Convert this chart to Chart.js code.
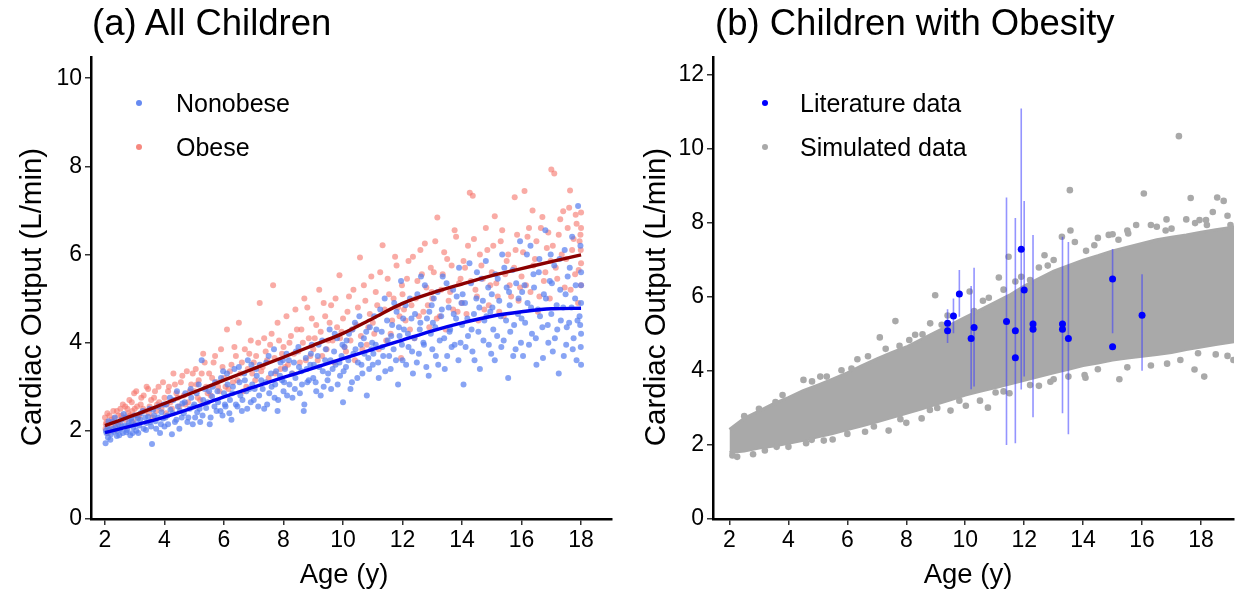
<!DOCTYPE html>
<html>
<head>
<meta charset="utf-8">
<script src="https://cdn.jsdelivr.net/npm/chart.js@4.4.1/dist/chart.umd.min.js"></script>
<style>
  html, body { margin:0; padding:0; background:#fff; }
  body { width:1238px; height:596px; position:relative; overflow:hidden; font-family:'Liberation Sans', Arial, sans-serif; color:#000; }
  canvas { position:absolute; top:0; }
  .title { position:absolute; font-size:36.5px; line-height:36px; white-space:nowrap; }
  .ytitle { position:absolute; width:400px; text-align:center; font-size:29.5px; line-height:30px; white-space:nowrap; transform:rotate(-90deg); }
  .xtitle { position:absolute; width:300px; text-align:center; font-size:27.5px; line-height:28px; white-space:nowrap; }
  .leg { position:absolute; font-size:25px; line-height:26px; white-space:nowrap; }
  .dot { position:absolute; width:6px; height:6px; border-radius:50%; }
</style>
</head>
<body>
<canvas id="cA" width="620" height="596" style="left:0px;"></canvas>
<canvas id="cB" width="618" height="596" style="left:620px;"></canvas>

<div class="title" style="left:92px; top:5px;">(a) All Children</div>
<div class="title" style="left:715px; top:5px;">(b) Children with Obesity</div>

<div class="ytitle" style="left:-169px; top:282px;">Cardiac Output (L/min)</div>
<div class="ytitle" style="left:455px; top:282px;">Cardiac Output (L/min)</div>

<div class="xtitle" style="left:194px; top:560px;">Age (y)</div>
<div class="xtitle" style="left:818px; top:560px;">Age (y)</div>

<div class="dot" style="left:136px; top:100px; background:rgba(85,125,240,0.9);"></div>
<div class="leg" style="left:176px; top:90px;">Nonobese</div>
<div class="dot" style="left:136px; top:144px; background:rgba(245,115,105,0.85);"></div>
<div class="leg" style="left:176px; top:134px;">Obese</div>

<div class="dot" style="left:762px; top:100px; background:#0000ff;"></div>
<div class="leg" style="left:800px; top:90px;">Literature data</div>
<div class="dot" style="left:762px; top:144px; background:#a9a9a9;"></div>
<div class="leg" style="left:800px; top:134px;">Simulated data</div>

<script>
// ---------------- DATA ----------------
const ageTicks = [2, 4, 6, 8, 10, 12, 14, 16, 18];
const coTicksA = [0, 2, 4, 6, 8, 10];
const coTicksB = [0, 2, 4, 6, 8, 10, 12];

// fitted curves (panel a)
const fitAges = [2, 3, 4, 5, 6, 7, 8, 9, 10, 11, 12, 13, 14, 15, 16, 17, 18];
const nonobeseFit = [1.96, 2.13, 2.31, 2.53, 2.77, 2.99, 3.21, 3.42, 3.64, 3.85, 4.06, 4.27, 4.45, 4.60, 4.70, 4.77, 4.78];
const obeseFit = [2.12, 2.36, 2.62, 2.88, 3.15, 3.41, 3.67, 3.94, 4.21, 4.55, 4.89, 5.13, 5.33, 5.52, 5.68, 5.84, 5.99];

// individual points (panel a): [age, cardiac output]
const nonobesePts = [
[2.02,1.72],[2.05,1.95],[2.08,2.1],[2.1,1.85],[2.15,2.02],[2.2,1.92],[2.25,2.2],[2.3,1.98],[2.35,2.08],[2.4,1.88],[2.45,2.15],[2.5,2.05],[2.55,2.25],[2.6,1.95],[2.65,2.12],[2.7,2.3],[2.75,2.02],[2.8,2.18],[2.85,1.9],[2.9,2.22],[2.95,2.08],[3.0,2.35],
[3.05,2.0],[3.1,2.28],[3.15,2.12],[3.2,2.4],[3.3,2.05],[3.35,2.3],[3.4,2.18],[3.5,2.5],[3.55,2.1],[3.58,1.7],[3.65,2.35],[3.7,2.22],[3.8,2.55],[3.85,1.95],[3.9,2.42],[3.95,2.28],
[4.0,2.1],[4.05,2.6],[4.1,2.35],[4.2,2.48],[4.25,1.92],[4.3,2.7],[4.4,2.25],[4.45,2.55],[4.5,2.05],[4.6,2.62],[4.65,2.4],[4.7,2.85],[4.8,2.3],[4.85,2.5],[4.9,2.75],[4.95,2.15],
[5.0,2.6],[5.1,2.42],[5.15,3.05],[5.2,2.2],[5.25,3.6],[5.3,2.7],[5.4,2.52],[5.5,2.9],[5.55,2.3],[5.6,2.78],[5.7,3.1],[5.75,2.45],[5.8,2.65],[5.9,3.2],[5.95,2.35],
[6.0,2.85],[6.05,2.55],[6.1,3.3],[6.2,2.7],[6.25,2.25],[6.3,3.0],[6.4,2.6],[6.5,3.45],[6.55,2.8],[6.6,2.45],[6.7,3.15],[6.75,2.9],[6.8,3.6],[6.9,2.65],[6.95,3.05],
[7.0,2.7],[7.1,3.25],[7.15,2.55],[7.2,3.5],[7.3,2.95],[7.4,3.1],[7.45,2.6],[7.5,3.7],[7.6,3.0],[7.7,2.75],[7.75,3.35],[7.8,2.45],[7.9,3.55],[7.95,3.15],
[8.0,2.9],[8.05,3.4],[8.1,3.75],[8.2,3.05],[8.3,2.75],[8.35,3.55],[8.4,3.2],[8.5,3.9],[8.55,2.85],[8.6,3.35],[8.7,2.6],[8.75,3.65],[8.8,3.1],[8.9,3.5],[8.95,3.95],
[9.0,3.2],[9.1,2.9],[9.15,3.7],[9.2,3.45],[9.3,4.05],[9.35,3.0],[9.4,3.6],[9.5,3.3],[9.55,4.3],[9.6,2.95],[9.7,3.8],[9.75,3.5],[9.8,4.1],[9.9,3.25],[9.95,3.7],
[10.0,2.65],[10.05,3.9],[10.1,3.45],[10.2,4.2],[10.3,3.1],[10.35,3.75],[10.4,4.45],[10.5,3.55],[10.6,3.95],[10.65,3.3],[10.7,4.1],[10.8,2.8],[10.85,3.65],[10.9,4.35],[10.95,3.85],
[11.0,3.5],[11.05,4.6],[11.1,3.95],[11.2,3.2],[11.3,4.25],[11.35,3.7],[11.4,5.0],[11.5,4.05],[11.6,3.4],[11.65,4.4],[11.7,3.85],[11.8,4.7],[11.85,3.05],[11.9,4.15],[11.95,5.4],
[12.0,3.6],[12.05,4.3],[12.1,4.85],[12.2,3.9],[12.3,4.55],[12.35,3.3],[12.4,4.1],[12.5,5.1],[12.55,3.75],[12.6,4.45],[12.7,4.0],[12.75,5.3],[12.8,3.45],[12.9,4.7],[12.95,4.2],
[13.0,3.85],[13.05,5.0],[13.1,4.35],[13.2,3.5],[13.3,4.6],[13.35,5.5],[13.4,4.1],[13.5,3.7],[13.55,4.8],[13.6,4.3],[13.7,5.2],[13.75,3.95],[13.8,4.55],[13.9,5.7],[13.95,4.0],
[14.0,4.4],[14.05,3.05],[14.1,4.9],[14.2,4.15],[14.3,5.35],[14.35,3.8],[14.4,4.65],[14.5,5.6],[14.55,4.25],[14.6,3.4],[14.7,4.95],[14.75,4.5],[14.8,5.85],[14.9,3.95],[14.95,4.7],
[15.0,5.1],[15.05,4.3],[15.1,3.6],[15.2,5.45],[15.3,4.6],[15.35,6.0],[15.4,4.05],[15.5,5.25],[15.55,3.2],[15.6,4.85],[15.7,5.65],[15.75,4.4],[15.8,3.85],[15.9,5.0],[15.95,6.3],
[16.0,4.55],[16.05,3.7],[16.1,5.3],[16.2,4.9],[16.3,6.2],[16.35,4.2],[16.4,5.55],[16.5,3.5],[16.55,4.75],[16.6,5.9],[16.7,4.35],[16.75,5.1],[16.8,6.55],[16.9,4.0],[16.95,5.4],
[17.0,4.65],[17.05,3.8],[17.1,5.75],[17.2,4.3],[17.25,3.3],[17.3,5.2],[17.4,4.8],[17.45,6.1],[17.5,3.95],[17.55,5.5],[17.6,4.45],[17.7,6.4],[17.75,4.1],[17.8,5.0],[17.85,3.6],[17.9,7.1],[17.95,4.6],[18.0,5.3],[18.0,4.2],[18.0,3.5],[18.0,5.6],[18.0,4.9],
[2.03,2.0],[2.12,2.22],[2.18,1.8],[2.27,2.05],[2.33,2.3],[2.42,2.0],[2.48,1.9],[2.57,2.1],[2.63,2.38],[2.72,1.97],[2.78,2.12],[2.88,2.28],[2.93,1.95],
[3.02,2.15],[3.12,1.95],[3.18,2.25],[3.27,2.45],[3.38,2.02],[3.45,2.32],[3.52,2.2],[3.62,2.48],[3.72,2.05],[3.78,2.3],[3.88,2.15],[3.97,2.6],
[4.03,2.3],[4.12,2.15],[4.18,2.75],[4.28,2.4],[4.35,2.2],[4.42,2.9],[4.52,2.45],[4.58,2.3],[4.68,2.65],[4.77,2.2],[4.88,2.95],[4.97,2.55],
[5.03,2.3],[5.08,2.85],[5.18,2.5],[5.28,2.35],[5.35,2.95],[5.45,2.65],[5.52,2.15],[5.62,3.0],[5.68,2.55],[5.78,2.9],[5.88,2.45],[5.97,3.35],
[6.03,2.6],[6.12,3.05],[6.18,2.4],[6.28,2.85],[6.35,3.4],[6.45,2.55],[6.52,3.1],[6.62,2.7],[6.68,3.3],[6.78,2.5],[6.85,2.95],[6.92,3.5],
[7.03,2.95],[7.08,3.4],[7.18,2.8],[7.25,3.15],[7.35,2.5],[7.42,3.55],[7.52,2.85],[7.58,3.3],[7.68,3.85],[7.72,3.05],[7.82,2.7],[7.88,3.25],[7.98,3.6],
[8.02,3.1],[8.12,2.8],[8.18,3.6],[8.28,3.3],[8.38,2.95],[8.42,3.8],[8.52,3.45],[8.62,3.05],[8.68,2.45],[8.78,3.4],[8.85,3.15],[8.92,3.75],
[9.02,3.5],[9.08,3.1],[9.18,3.95],[9.25,2.8],[9.32,3.35],[9.42,3.85],[9.48,3.15],[9.58,3.6],[9.65,3.4],[9.72,4.2],[9.82,3.05],[9.88,3.55],[9.98,3.95],
[10.02,3.35],[10.12,4.05],[10.18,3.6],[10.25,2.95],[10.32,4.3],[10.42,3.85],[10.48,3.2],[10.55,4.6],[10.62,3.5],[10.72,3.75],[10.78,4.25],[10.88,3.4],[10.98,4.0],
[11.02,3.75],[11.12,4.3],[11.18,3.55],[11.25,4.75],[11.32,3.9],[11.42,3.35],[11.48,4.5],[11.55,3.7],[11.62,4.15],[11.72,4.9],[11.78,3.6],[11.88,4.35],[11.98,3.95],
[12.02,4.55],[12.12,3.5],[12.18,4.2],[12.25,5.0],[12.32,3.8],[12.42,4.65],[12.48,3.55],[12.58,4.3],[12.62,5.5],[12.72,3.95],[12.82,4.55],[12.88,3.25],[12.98,4.85],
[13.02,4.45],[13.12,3.7],[13.18,5.15],[13.25,4.05],[13.32,4.75],[13.42,3.4],[13.48,5.35],[13.58,4.25],[13.65,3.9],[13.72,4.65],[13.82,5.05],[13.88,3.6],[13.98,4.9],
[14.02,5.1],[14.12,3.9],[14.18,4.55],[14.25,5.8],[14.32,4.3],[14.42,3.6],[14.48,5.0],[14.58,4.8],[14.65,5.45],[14.72,4.05],[14.82,4.6],[14.88,5.25],[14.98,3.75],
[15.02,4.8],[15.12,5.55],[15.18,4.15],[15.25,4.95],[15.32,3.9],[15.42,5.7],[15.48,4.5],[15.58,5.15],[15.62,4.25],[15.72,3.7],[15.82,5.35],[15.88,4.65],[15.98,4.0],
[16.02,5.15],[16.12,4.45],[16.18,6.0],[16.25,3.95],[16.32,4.8],[16.42,5.25],[16.48,4.1],[16.58,5.6],[16.62,4.6],[16.72,3.65],[16.82,5.0],[16.88,4.4],[16.98,6.0],
[17.02,5.35],[17.12,4.1],[17.18,4.85],[17.28,5.9],[17.32,4.5],[17.42,3.7],[17.48,5.1],[17.52,4.35],[17.62,5.7],[17.68,4.8],[17.72,3.85],[17.82,5.3],[17.88,4.5],[17.98,6.2],[17.99,3.9],[17.97,4.4]
];
const obesePts = [
[2.0,2.3],[2.02,2.05],[2.05,2.2],[2.1,1.95],[2.15,2.35],[2.2,2.1],[2.3,2.28],[2.35,2.02],[2.4,2.45],[2.5,2.2],[2.55,2.35],[2.6,2.6],[2.7,2.25],[2.75,2.5],[2.85,2.35],[2.9,2.65],[2.95,2.2],
[3.0,2.5],[3.05,2.9],[3.15,2.35],[3.2,2.6],[3.3,2.8],[3.35,2.45],[3.45,2.95],[3.5,2.55],[3.6,2.3],[3.65,2.75],[3.75,2.6],[3.8,3.0],[3.9,2.5],
[4.0,2.75],[4.05,2.4],[4.15,3.0],[4.2,2.65],[4.3,3.3],[4.4,2.85],[4.5,2.55],[4.55,3.1],[4.65,2.8],[4.75,3.35],[4.8,2.65],[4.9,3.05],
[5.0,2.9],[5.05,3.4],[5.15,3.15],[5.2,2.7],[5.3,3.75],[5.4,3.0],[5.5,3.3],[5.55,2.8],[5.65,3.55],[5.75,3.1],[5.85,2.9],[5.9,3.85],
[6.0,3.2],[6.1,4.3],[6.15,2.95],[6.25,3.5],[6.3,3.1],[6.4,3.7],[6.5,4.45],[6.55,3.3],[6.65,2.9],[6.7,3.85],[6.8,3.4],[6.9,4.05],
[7.0,3.55],[7.05,3.15],[7.15,4.0],[7.2,4.9],[7.3,3.45],[7.4,3.8],[7.5,3.2],[7.6,4.2],[7.65,5.3],[7.7,3.65],[7.8,4.45],[7.9,3.4],
[8.0,3.9],[8.1,4.6],[8.15,3.5],[8.25,4.15],[8.3,3.3],[8.4,4.75],[8.5,3.8],[8.6,4.3],[8.7,5.0],[8.75,3.6],[8.85,4.1],[8.95,4.55],
[9.0,3.85],[9.1,4.4],[9.2,5.2],[9.3,3.7],[9.4,4.6],[9.5,4.05],[9.6,4.85],[9.7,3.55],[9.8,4.35],[9.88,5.53],[9.9,4.1],
[10.0,4.55],[10.1,3.8],[10.2,5.05],[10.3,4.3],[10.4,3.6],[10.5,4.8],[10.57,5.93],[10.6,4.15],[10.7,5.3],[10.8,3.95],[10.9,4.65],
[11.0,4.45],[11.1,5.15],[11.2,3.85],[11.33,6.21],[11.4,4.75],[11.5,5.45],[11.6,4.2],[11.7,5.0],[11.8,5.75],[11.9,4.6],[11.95,3.65],
[12.0,5.1],[12.1,4.5],[12.2,5.85],[12.3,4.85],[12.4,4.1],[12.5,5.4],[12.6,6.1],[12.7,4.7],[12.8,5.25],[12.9,4.35],[12.95,5.7],
[13.0,5.0],[13.1,6.3],[13.17,6.84],[13.25,4.6],[13.35,5.55],[13.45,4.3],[13.5,5.9],[13.6,5.15],[13.7,4.75],[13.8,6.4],[13.9,5.35],
[14.0,4.9],[14.1,5.7],[14.2,6.2],[14.26,7.4],[14.36,7.33],[14.45,5.2],[14.55,4.5],[14.6,6.0],[14.7,5.45],[14.8,6.6],[14.9,4.85],
[15.0,5.6],[15.1,6.87],[15.2,5.05],[15.3,6.3],[15.4,4.6],[15.5,5.85],[15.6,5.3],[15.77,7.3],[15.8,6.1],[15.9,4.95],
[16.0,5.5],[16.1,7.44],[16.2,6.4],[16.3,5.15],[16.37,7.0],[16.45,5.9],[16.55,4.7],[16.65,6.6],[16.75,5.4],[16.85,6.15],[16.95,5.0],
[17.0,7.93],[17.1,7.84],[17.15,5.7],[17.25,6.45],[17.4,6.98],[17.45,5.25],[17.6,7.06],[17.63,7.45],[17.7,6.1],[17.8,5.55],[17.85,6.7],[17.9,4.9],[17.95,6.3],[18.0,5.8],[18.0,6.6],[18.0,6.95],[18.0,5.3],
[2.03,2.15],[2.08,2.4],[2.12,2.0],[2.22,2.25],[2.28,2.45],[2.38,2.15],[2.45,2.35],[2.52,2.5],[2.62,2.3],[2.68,2.55],[2.78,2.4],[2.82,2.7],[2.92,2.45],[2.98,2.85],
[3.08,2.55],[3.12,2.3],[3.22,2.75],[3.28,2.5],[3.4,3.0],[3.48,2.4],[3.55,2.7],[3.68,2.9],[3.72,2.45],[3.82,2.65],[3.95,3.1],
[4.08,2.6],[4.12,2.9],[4.25,2.5],[4.35,3.05],[4.45,2.75],[4.6,3.25],[4.7,2.6],[4.85,2.9],[4.95,3.3],
[5.08,3.05],[5.12,2.75],[5.25,3.3],[5.35,3.55],[5.45,2.85],[5.6,3.2],[5.7,3.7],[5.8,3.0],[5.95,3.45],
[6.05,3.0],[6.2,3.35],[6.35,3.9],[6.45,3.15],[6.6,3.55],[6.75,3.0],[6.85,3.75],[6.95,3.3],
[7.08,3.7],[7.25,3.35],[7.35,4.1],[7.45,3.6],[7.55,3.95],[7.72,3.3],[7.85,4.05],[7.95,3.75],
[8.05,3.45],[8.2,4.0],[8.35,3.75],[8.45,4.3],[8.55,3.55],[8.65,4.0],[8.8,4.8],[8.9,3.7],
[9.05,4.1],[9.15,3.6],[9.25,4.25],[9.35,4.9],[9.45,3.85],[9.55,4.45],[9.65,4.05],[9.75,5.0],[9.95,4.25],
[10.05,3.9],[10.15,4.7],[10.25,4.05],[10.35,5.2],[10.45,4.4],[10.65,3.85],[10.75,4.95],[10.85,4.35],[10.95,5.5],
[11.05,4.2],[11.15,4.85],[11.25,5.6],[11.45,4.05],[11.55,5.1],[11.65,4.5],[11.75,5.95],[11.85,4.8],[11.98,5.3],
[12.05,4.75],[12.15,5.45],[12.25,4.3],[12.35,5.95],[12.45,5.0],[12.55,4.6],[12.65,5.55],[12.75,6.25],[12.85,4.85],[12.98,5.15],
[13.05,5.6],[13.15,4.55],[13.3,5.2],[13.4,6.05],[13.55,4.95],[13.65,5.75],[13.75,6.55],[13.85,4.7],[13.95,5.45],
[14.05,5.85],[14.15,4.65],[14.3,5.4],[14.4,6.35],[14.5,5.05],[14.65,5.75],[14.75,4.75],[14.85,6.1],[14.95,5.3],
[15.05,6.2],[15.15,5.35],[15.25,4.7],[15.35,6.55],[15.45,5.55],[15.55,6.0],[15.65,5.05],[15.75,5.7],[15.85,6.45],[15.95,5.25],
[16.05,6.05],[16.15,5.3],[16.25,6.6],[16.4,5.75],[16.5,6.3],[16.6,5.05],[16.7,6.85],[16.8,5.6],[16.9,6.5],[16.98,5.85],
[17.05,6.2],[17.2,5.45],[17.3,6.8],[17.35,6.0],[17.5,5.9],[17.55,6.6],[17.65,5.2],[17.75,6.35],[17.82,6.9],[17.92,5.65],[17.98,6.45],[17.99,6.1]
];

// panel b: dense simulated cloud envelope (lower / upper edge) and scattered simulated points
const bandAges = [2.0, 2.5, 3, 3.5, 4, 4.5, 5, 5.5, 6, 6.5, 7, 7.5, 8, 8.5, 9, 9.5, 10, 10.5, 11, 11.5, 12, 12.5, 13, 13.5, 14, 14.5, 15, 15.5, 16, 16.5, 17, 17.5, 18, 18.5, 19.2];
const bandLow  = [1.8, 1.84, 1.92, 1.97, 2.05, 2.13, 2.22, 2.31, 2.42, 2.52, 2.63, 2.74, 2.86, 2.97, 3.1, 3.22, 3.35, 3.45, 3.55, 3.65, 3.75, 3.85, 3.95, 4.05, 4.15, 4.22, 4.3, 4.35, 4.4, 4.45, 4.5, 4.58, 4.65, 4.72, 4.8];
const bandHigh = [2.42, 2.72, 2.92, 3.12, 3.28, 3.47, 3.62, 3.78, 3.95, 4.15, 4.33, 4.5, 4.65, 4.85, 5.05, 5.25, 5.45, 5.65, 5.85, 6.05, 6.3, 6.5, 6.7, 6.85, 7.0, 7.12, 7.25, 7.35, 7.45, 7.55, 7.62, 7.68, 7.75, 7.82, 7.9];
const simPts = [
[17.25,10.35],[13.55,8.89],[16.06,8.8],[17.65,8.68],[18.55,8.69],[18.77,8.6],[13.57,7.8],[13.28,7.63],[14.87,7.68],[15.8,7.95],[16.83,8.1],[17.5,8.1],[17.95,8.08],[18.17,8.08],[15.53,7.72],[16.3,7.95],
[11.47,7.09],[12.69,7.13],[13.72,7.49],[14.38,7.4],[8.98,6.05],[10.15,6.15],[11.14,6.53],[11.9,6.55],[12.2,6.46],[12.5,6.8],[13.0,7.0],[14.5,7.6],[15.0,7.7],[15.5,7.8],[16.5,7.9],[17.0,7.85],[17.8,8.0],[18.4,8.3],[18.9,8.2],[19.0,7.95],[16.8,7.8],[14.1,7.25],[15.2,7.55],[18.2,7.95],
[7.63,5.35],[7.1,4.91],[7.77,4.68],[8.81,5.29],[8.55,4.99],[8.1,4.84],[6.34,4.32],[6.14,4.07],[4.51,3.76],[5.08,3.85],[3.56,3.16],[9.4,5.5],[10.6,5.9],
[2.5,2.78],[3.0,2.98],[3.8,3.35],[4.8,3.72],[5.3,3.85],[5.8,4.02],[6.7,4.4],[7.3,4.6],[8.3,4.98],[9.2,5.25],[10.3,5.62],[10.8,5.98],[11.3,6.2],[11.7,6.42],[12.8,6.85],
[6.6,2.36],[7.4,2.39],[4.79,2.14],[2.26,1.68],[10.77,3.01],[10.02,3.06],[9.05,3.0],[8.52,2.72],[9.5,2.93],[11.03,3.42],[12.89,3.71],[14.08,3.82],[15.23,3.78],[17.78,4.04],[18.11,3.85],[14.05,3.89],[16.85,4.2],[18.9,4.41],
[10.5,3.2],[11.5,3.4],[12.5,3.6],[13.5,3.85],[15.5,4.1],[16.3,4.15],[17.3,4.3],[18.5,4.45],[19.1,4.3],[2.8,1.75],[3.2,1.85],[4.0,1.95],[5.5,2.15],[8.0,2.6],
[2.1,1.72],[3.6,1.95],[4.6,2.05],[5.2,2.12],[6.0,2.3],[6.9,2.5],[7.8,2.7],[8.8,2.95],[9.8,3.2],[11.3,3.45],[12.2,3.62],[13.0,3.78],[14.5,4.05],[17.9,4.48]
];

// panel b: literature data with ranges
const litAge = [9.4, 9.4, 9.6, 9.8, 10.2, 10.3, 11.4, 11.7, 11.7, 11.9, 12.0, 12.3, 12.3, 13.3, 13.3, 13.5, 15.0, 15.0, 16.0];
const litCO  = [5.29, 5.09, 5.49, 6.08, 4.88, 5.18, 5.34, 5.09, 4.36, 7.29, 6.19, 5.27, 5.13, 5.27, 5.13, 4.88, 6.49, 4.66, 5.51];
const litLow = [4.76, 4.76, 5.02, 5.47, 3.51, 3.58, 2.0, 2.05, 2.9, 3.5, 3.85, 2.75, 3.0, 2.86, 3.0, 2.29, 5.02, 4.66, 4.01];
const litHigh= [5.67, 5.67, 5.96, 6.73, 6.3, 6.79, 8.69, 8.14, 5.8, 11.1, 8.6, 7.68, 7.3, 7.63, 7.4, 7.49, 7.3, 4.66, 6.62];

// ---------------- CHARTS ----------------
Chart.defaults.font.family = "'Liberation Sans', Arial, sans-serif";
Chart.defaults.color = '#000';

const toXY = arr => arr.map(p => ({x: p[0], y: p[1]}));
const zip = (xs, ys) => xs.map((x, i) => ({x: x, y: ys[i]}));

function axisX(min, max, h) {
  return {
    type: 'linear', min: min, max: max,
    afterBuildTicks: s => { s.ticks = ageTicks.map(v => ({value: v})); },
    afterFit: s => { s.height = h; },
    grid: { drawOnChartArea: false, drawTicks: true, tickLength: 6, color: '#333', lineWidth: 1.5 },
    border: { display: true, color: '#000', width: 2.5 },
    ticks: { font: { size: 23 }, color: '#000', padding: 2, maxRotation: 0, autoSkip: false }
  };
}
function axisY(min, max, w, tickVals) {
  return {
    type: 'linear', min: min, max: max,
    afterBuildTicks: s => { s.ticks = tickVals.map(v => ({value: v})); },
    afterFit: s => { s.width = w; },
    grid: { drawOnChartArea: false, drawTicks: true, tickLength: 6, color: '#333', lineWidth: 1.5 },
    border: { display: true, color: '#000', width: 2.5 },
    ticks: { font: { size: 23 }, color: '#000', padding: 3, autoSkip: false }
  };
}
const baseOpts = {
  responsive: false, animation: false, devicePixelRatio: 1,
  plugins: { legend: { display: false }, tooltip: { enabled: false } },
  elements: { point: { borderWidth: 0 } }
};

new Chart(document.getElementById('cA'), {
  type: 'scatter',
  data: { datasets: [
    { type: 'line', data: zip(fitAges, obeseFit), borderColor: '#8b0000', borderWidth: 3.4, pointRadius: 0, cubicInterpolationMode: 'monotone', order: 0 },
    { type: 'line', data: zip(fitAges, nonobeseFit), borderColor: '#0000ee', borderWidth: 3.4, pointRadius: 0, cubicInterpolationMode: 'monotone', order: 1 },
    { data: toXY(nonobesePts), backgroundColor: 'rgba(85,125,240,0.7)', borderColor: 'rgba(0,0,0,0)', pointRadius: 3.0, order: 2 },
    { data: toXY(obesePts), backgroundColor: 'rgba(245,115,105,0.6)', borderColor: 'rgba(0,0,0,0)', pointRadius: 3.0, order: 3 }
  ]},
  options: Object.assign({}, baseOpts, {
    layout: { padding: { top: 57, right: 8, left: 0, bottom: 0 } },
    scales: { x: axisX(1.53, 19.04, 77), y: axisY(0, 10.48, 91, coTicksA) }
  })
});

const barPts = [];
litAge.forEach((a, i) => {
  barPts.push({x: a, y: litLow[i]}, {x: a, y: litHigh[i]}, {x: a, y: null});
});

new Chart(document.getElementById('cB'), {
  type: 'scatter',
  data: { datasets: [
    { data: zip(litAge, litCO), backgroundColor: '#0000ff', borderColor: 'rgba(0,0,0,0)', pointRadius: 3.5, order: 0 },
    { type: 'line', data: barPts, borderColor: 'rgba(60,60,255,0.55)', borderWidth: 1.6, pointRadius: 0, spanGaps: false, tension: 0, order: 1 },
    { data: toXY(simPts), backgroundColor: '#a9a9a9', borderColor: 'rgba(0,0,0,0)', pointRadius: 3.3, order: 2 },
    { type: 'line', data: zip(bandAges, bandHigh), borderColor: '#a9a9a9', borderWidth: 3, backgroundColor: '#a9a9a9', pointRadius: 0, tension: 0, fill: '+1', order: 3 },
    { type: 'line', data: zip(bandAges, bandLow), borderColor: '#a9a9a9', borderWidth: 3, backgroundColor: '#a9a9a9', pointRadius: 0, tension: 0, fill: false, order: 4 }
  ]},
  options: Object.assign({}, baseOpts, {
    layout: { padding: { top: 57, right: 0, left: 0, bottom: 0 } },
    scales: { x: axisX(1.44, 19.12, 77), y: axisY(0, 12.49, 93, coTicksB) }
  })
});
</script>
</body>
</html>
